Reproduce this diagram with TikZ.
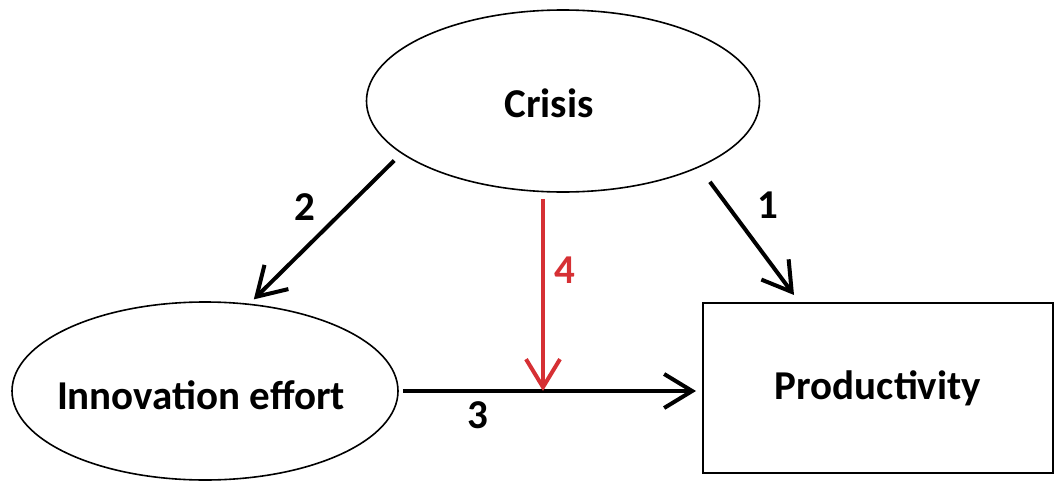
\documentclass[tikz,border=0pt]{standalone}
\usepackage{fontspec}
\setmainfont{Carlito}
\usetikzlibrary{shapes.geometric,arrows.meta}
\definecolor{arrowred}{RGB}{214,48,52}
\begin{document}
\begin{tikzpicture}[x=0.5pt, y=-0.5pt,
  every node/.style={font=\fontsize{20.5}{24}\selectfont\bfseries},
  oval/.style={draw,ellipse,line width=0.8pt,inner sep=0pt},
  box/.style={draw,rectangle,line width=1pt,inner sep=0pt},
  link/.style={line width=2pt,-{Straight Barb[length=14pt,width=17pt]}},
  lbl/.style={inner sep=1pt}]
\useasboundingbox (0,0) rectangle (1055,482);
\node[oval,minimum width=196.5pt,minimum height=91pt,
  label={[lbl,xshift=-7pt,yshift=-1pt]center:Crisis}] (crisis) at (563,101) {};
\node[oval,minimum width=193pt,minimum height=89pt,
  label={[lbl,xshift=-2pt,yshift=-2pt]center:Innovation effort}] (innov) at (205,391) {};
\node[box,minimum width=175pt,minimum height=85pt] (prod) at (878,388) {Productivity};
\draw[link,shorten <=9pt] (crisis.-26) -- ([xshift=46pt,yshift=3.5pt]prod.north west);
\draw[link,shorten <=5pt,shorten >=3pt] (crisis.198) -- (innov.63);
\draw[link] ([xshift=2pt]innov.east) -- ([xshift=-3pt]innov.east -| prod.west);
\draw[link,arrowred,shorten >=3pt] ([xshift=-10pt,yshift=-3pt]crisis.south) -- ([xshift=-10pt,yshift=-3pt]crisis.south |- innov.east);
\node[lbl] (n1) at (768,205) {1};
\node[lbl] (n2) at (305,207) {2};
\node[lbl] (n3) at (478,415) {3};
\node[lbl,text=arrowred] (n4) at (565,270) {4};
\end{tikzpicture}
\end{document}
